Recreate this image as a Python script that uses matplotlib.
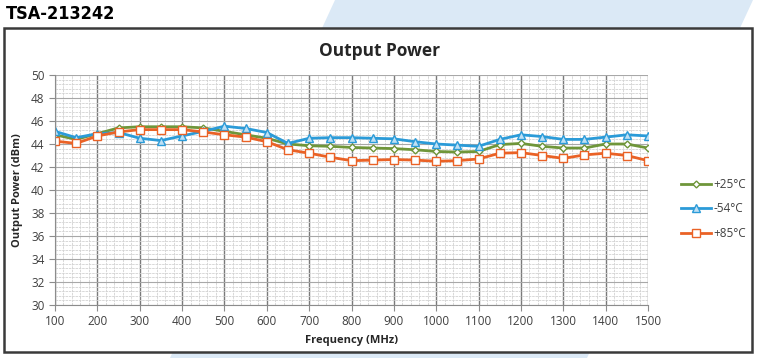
import matplotlib
matplotlib.use("Agg")
import matplotlib.pyplot as plt
from matplotlib.patches import Polygon, Rectangle
from matplotlib.ticker import MultipleLocator

plt.rcParams['font.family'] = ['Open Sans', 'DejaVu Sans']

# frequency points (MHz)
freq = [100, 150, 200, 250, 300, 350, 400, 450, 500, 550, 600, 650, 700, 750,
        800, 850, 900, 950, 1000, 1050, 1100, 1150, 1200, 1250, 1300, 1350,
        1400, 1450, 1500]

# output power (dBm)
p_25 = [44.8, 44.4, 44.9, 45.4, 45.5, 45.5, 45.5, 45.4, 45.1, 44.8, 44.5,
        44.0, 43.85, 43.8, 43.7, 43.65, 43.6, 43.5, 43.35, 43.3, 43.35, 43.95,
        44.05, 43.8, 43.65, 43.65, 44.0, 44.0, 43.65]
p_m54 = [45.1, 44.55, 44.9, 45.0, 44.5, 44.3, 44.7, 45.1, 45.55, 45.35, 45.0,
         44.05, 44.5, 44.55, 44.55, 44.5, 44.45, 44.2, 44.0, 43.9, 43.8, 44.4,
         44.8, 44.65, 44.4, 44.4, 44.6, 44.8, 44.7]
p_85 = [44.25, 44.05, 44.7, 45.05, 45.25, 45.25, 45.25, 45.05, 44.8, 44.6,
        44.2, 43.5, 43.2, 42.85, 42.55, 42.6, 42.65, 42.6, 42.5, 42.55, 42.7,
        43.2, 43.25, 43.0, 42.75, 43.05, 43.2, 43.0, 42.55]

W, H = 760, 358
fig = plt.figure(figsize=(W / 100, H / 100), dpi=100)

# light blue band in the background
band = Polygon([(335 / W, 1), (753 / W, 1), (587 / W, 0), (170 / W, 0)],
               closed=True, transform=fig.transFigure, facecolor='#dbe9f6',
               edgecolor='none', zorder=0)
fig.patches.append(band)

# framed white box
box = Rectangle((4 / W, 6 / H), 748 / W, 324 / H, transform=fig.transFigure,
                facecolor='white', edgecolor='#3a3a3a', linewidth=1.8, zorder=1)
fig.patches.append(box)

fig.text(6 / W, 1 - 14 / H, 'TSA-213242', fontsize=13, fontweight='bold',
         fontstretch='condensed', family=['DejaVu Sans'],
         va='center', ha='left')
fig.text(380 / W, 1 - 51 / H, 'Output Power', fontsize=12.5, fontweight='bold',
         va='center', ha='center', color='#262626')

ax = fig.add_axes([55 / W, 1 - 305 / H, 593 / W, 230 / H])
ax.set_facecolor('none')
ax.set_zorder(2)

ax.plot(freq, p_25, color='#6f963a', lw=2, marker='D', ms=3.5,
        mfc='white', mec='#6f963a', mew=1, label='+25°C')
ax.plot(freq, p_m54, color='#2b9bd8', lw=2, marker='^', ms=6,
        mfc='#bfe0f4', mec='#2b9bd8', mew=1, label='-54°C')
ax.plot(freq, p_85, color='#ea6226', lw=2, marker='s', ms=6,
        mfc='white', mec='#ea6226', mew=1, label='+85°C')

ax.set_xlim(100, 1500)
ax.set_ylim(30, 50)
ax.xaxis.set_major_locator(MultipleLocator(100))
ax.xaxis.set_minor_locator(MultipleLocator(20))
ax.yaxis.set_major_locator(MultipleLocator(2))
ax.yaxis.set_minor_locator(MultipleLocator(0.4))
ax.grid(which='major', axis='x', color='#7a7a7a', lw=1)
ax.grid(which='major', axis='y', color='#a8a8a8', lw=0.8)
ax.grid(which='minor', color='#d2d2d2', lw=0.6, ls=(0, (3, 1)))
ax.set_axisbelow(True)

for s in ['top', 'right']:
    ax.spines[s].set_visible(False)
for s in ['left', 'bottom']:
    ax.spines[s].set_color('#8c8c8c')
ax.tick_params(which='major', length=4, color='#8c8c8c', labelsize=8.5,
               labelcolor='#404040')
ax.tick_params(which='minor', length=0)

ax.set_xlabel('Frequency (MHz)', fontsize=8, fontweight='bold', labelpad=5,
              color='#262626')
ax.set_ylabel('Output Power (dBm)', fontsize=8, fontweight='bold', labelpad=6,
              color='#262626')

ax.legend(loc='center left', bbox_to_anchor=(670 / W, 1 - 209 / H),
          bbox_transform=fig.transFigure, frameon=False, fontsize=8.5,
          handlelength=2.6, handletextpad=0.2, labelspacing=1.0,
          labelcolor='#404040')

fig.savefig('out.png', dpi=100)
